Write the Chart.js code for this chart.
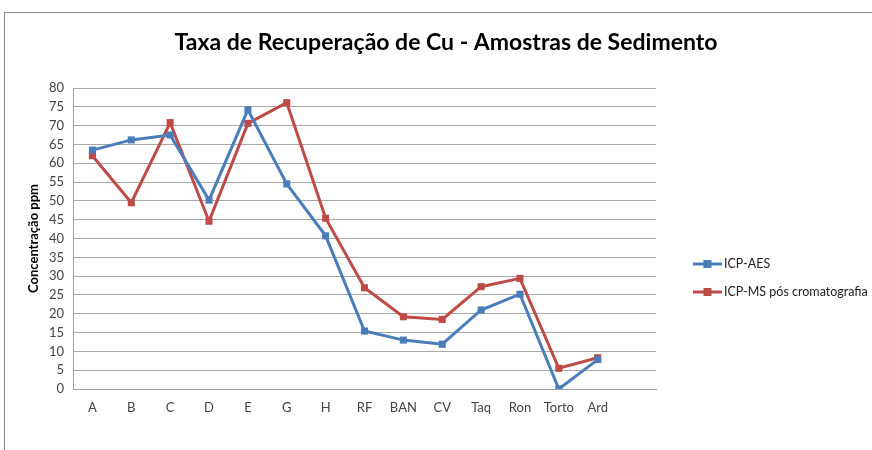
<!DOCTYPE html>
<html>
<head>
<meta charset="utf-8">
<script src="https://cdn.jsdelivr.net/npm/chart.js@4.4.1/dist/chart.umd.min.js"></script>
<style>
  html, body { margin: 0; padding: 0; background: #fff; }
  #wrap { position: relative; width: 872px; height: 450px; overflow: hidden; }
  #frame { position: absolute; left: 4px; top: 12px; width: 900px; height: 500px;
           border-left: 1px solid #8c8c8c; border-top: 1px solid #8c8c8c; }
  canvas { position: absolute; left: 0; top: 0; }
</style>
</head>
<body>
<div id="wrap">
  <div id="frame"></div>
  <canvas id="chart" width="872" height="450"></canvas>
</div>
<script>
// amostras de sedimento (last slot left empty, as in the original sheet)
const categories = ['A', 'B', 'C', 'D', 'E', 'G', 'H', 'RF', 'BAN', 'CV', 'Taq', 'Ron', 'Torto', 'Ard', ''];
const icpAes = [63.5, 66.2, 67.5, 50.2, 74.2, 54.5, 40.7, 15.4, 13.0, 11.9, 21.0, 25.2, 0.0, 7.8, null];
const icpMs = [62.0, 49.5, 70.8, 44.6, 70.6, 76.1, 45.4, 26.9, 19.2, 18.5, 27.2, 29.4, 5.5, 8.3, null];
const seriesNames = ['ICP-AES', 'ICP-MS pós cromatografia'];
const chartTitle = 'Taxa de Recuperação de Cu - Amostras de Sedimento';

const FONT = 'Lato, "Open Sans", sans-serif';
const BLUE = '#4a7ebb';
const RED = '#be4b48';

// title + legend drawn by hand so they sit where the spreadsheet put them
const decorations = {
  id: 'decorations',
  afterDraw(chart) {
    const ctx = chart.ctx;
    ctx.save();
    ctx.fillStyle = '#000';
    ctx.font = 'bold 23px ' + FONT;
    ctx.textAlign = 'center';
    ctx.textBaseline = 'middle';
    ctx.fillText(chartTitle, 446, 43);

    ctx.font = '12.5px ' + FONT;
    ctx.textAlign = 'left';
    chart.data.datasets.forEach((ds, i) => {
      const y = 264 + i * 28;
      ctx.strokeStyle = ds.borderColor;
      ctx.lineWidth = 3;
      ctx.beginPath();
      ctx.moveTo(693, y);
      ctx.lineTo(722, y);
      ctx.stroke();
      ctx.fillStyle = ds.borderColor;
      ctx.fillRect(703.5, y - 4, 8, 8);
      ctx.fillStyle = '#222';
      ctx.fillText(ds.label, 724, y);
    });
    ctx.restore();
  }
};

new Chart(document.getElementById('chart'), {
  type: 'line',
  data: {
    labels: categories,
    datasets: [
      {
        label: seriesNames[0],
        data: icpAes,
        borderColor: BLUE,
        backgroundColor: BLUE,
        borderWidth: 3,
        pointStyle: 'rect',
        pointRadius: 5,
        pointBorderWidth: 0,
        tension: 0
      },
      {
        label: seriesNames[1],
        data: icpMs,
        borderColor: RED,
        backgroundColor: RED,
        borderWidth: 3,
        pointStyle: 'rect',
        pointRadius: 5,
        pointBorderWidth: 0,
        tension: 0
      }
    ]
  },
  options: {
    responsive: false,
    animation: false,
    layout: { padding: { top: 88, right: 216, left: 26, bottom: 0 } },
    plugins: {
      legend: { display: false },
      title: { display: false },
      tooltip: { enabled: false }
    },
    scales: {
      x: {
        offset: true,
        afterFit(scale) { scale.height = 61; },
        grid: { display: false, drawTicks: false },
        border: { color: '#a0a0a0', width: 1 },
        ticks: { color: '#444', font: { family: FONT, size: 13 }, padding: 11, autoSkip: false, maxRotation: 0 }
      },
      y: {
        min: 0,
        max: 80,
        afterFit(scale) { scale.width = 47; },
        title: {
          display: true,
          text: 'Concentração ppm',
          color: '#000',
          font: { family: FONT, size: 13, weight: 'bold' },
          padding: { top: 0, bottom: 0 }
        },
        grid: { color: '#a8a8a8', lineWidth: 1, drawTicks: false },
        border: { color: '#a0a0a0', width: 1 },
        ticks: { stepSize: 5, color: '#444', font: { family: FONT, size: 13 }, padding: 9 }
      }
    }
  },
  plugins: [decorations]
});
</script>
</body>
</html>
